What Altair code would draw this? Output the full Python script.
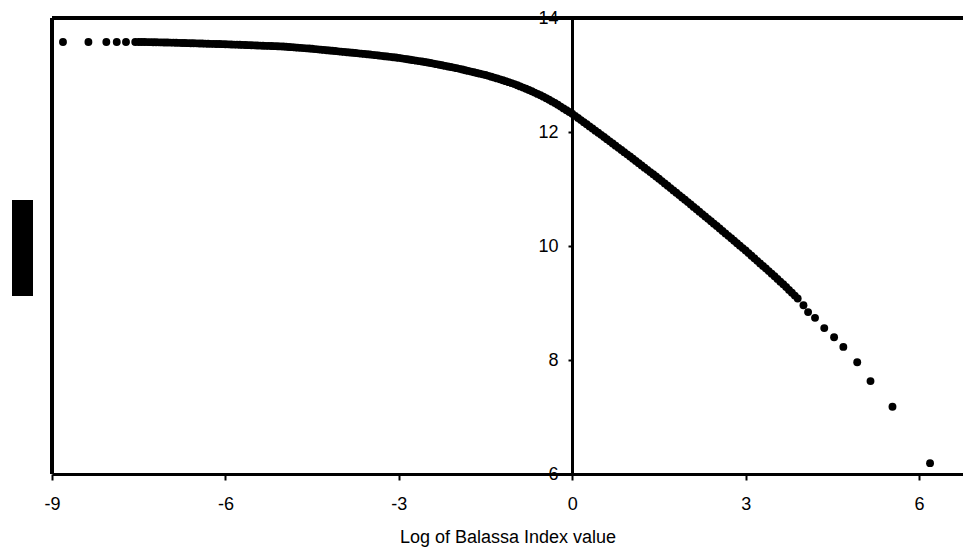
import altair as alt
import pandas as pd

# isolated points at the far left (log Balassa index, log value)
left_x = [-8.81, -8.37, -8.06, -7.88, -7.72, -7.56]
left_y = [13.58, 13.58, 13.58, 13.58, 13.58, 13.58]

# dense part of the curve
dense_x = [-7.5, -7.4, -7.3, -7.2, -7.1, -7.0, -6.9, -6.8, -6.7, -6.6, -6.5,
           -6.4, -6.3, -6.2, -6.1, -6.0, -5.9, -5.8, -5.7, -5.6, -5.5,
           -5.4, -5.3, -5.2, -5.1, -5.0, -4.9, -4.8, -4.7, -4.6, -4.5,
           -4.4, -4.3, -4.2, -4.1, -4.0, -3.9, -3.8, -3.7, -3.6, -3.5,
           -3.4, -3.3, -3.2, -3.1, -3.0, -2.9, -2.8, -2.7, -2.6, -2.5,
           -2.4, -2.3, -2.2, -2.1, -2.0, -1.9, -1.8, -1.7, -1.6, -1.5,
           -1.4, -1.3, -1.2, -1.1, -1.0, -0.9, -0.8, -0.7, -0.6, -0.5,
           -0.4, -0.3, -0.2, -0.1, 0.0, 0.1, 0.2, 0.3, 0.4, 0.5,
           0.6, 0.7, 0.8, 0.9, 1.0, 1.1, 1.2, 1.3, 1.4, 1.5,
           1.6, 1.7, 1.8, 1.9, 2.0, 2.1, 2.2, 2.3, 2.4, 2.5,
           2.6, 2.7, 2.8, 2.9, 3.0, 3.1, 3.2, 3.3, 3.4, 3.5,
           3.6, 3.7, 3.8, 3.9]
dense_y = [13.580, 13.578, 13.576, 13.574, 13.572, 13.570, 13.567, 13.564, 13.561, 13.558, 13.555,
           13.552, 13.549, 13.546, 13.543, 13.540, 13.536, 13.532, 13.528, 13.524, 13.520,
           13.516, 13.512, 13.508, 13.504, 13.500, 13.492, 13.484, 13.476, 13.468, 13.460,
           13.450, 13.440, 13.430, 13.420, 13.410, 13.400, 13.390, 13.380, 13.370, 13.360,
           13.348, 13.336, 13.324, 13.312, 13.300, 13.284, 13.268, 13.252, 13.236, 13.220,
           13.200, 13.180, 13.160, 13.140, 13.120, 13.096, 13.072, 13.048, 13.024, 13.000,
           12.970, 12.940, 12.908, 12.875, 12.840, 12.800, 12.758, 12.714, 12.668, 12.620,
           12.566, 12.508, 12.446, 12.382, 12.320, 12.246, 12.172, 12.098, 12.024, 11.950,
           11.874, 11.798, 11.722, 11.646, 11.570, 11.492, 11.414, 11.336, 11.258, 11.180,
           11.098, 11.016, 10.934, 10.852, 10.770, 10.686, 10.602, 10.518, 10.434, 10.350,
           10.264, 10.178, 10.092, 10.006, 9.920, 9.830, 9.740, 9.650, 9.560, 9.470,
           9.375, 9.280, 9.180, 9.080]

# further points of the dense part, between the ones above
mid_x = [-7.45, -7.35, -7.25, -7.15, -7.05, -6.95, -6.85, -6.75, -6.65, -6.55,
         -6.45, -6.35, -6.25, -6.15, -6.05, -5.95, -5.85, -5.75, -5.65, -5.55,
         -5.45, -5.35, -5.25, -5.15, -5.05, -4.95, -4.85, -4.75, -4.65, -4.55,
         -4.45, -4.35, -4.25, -4.15, -4.05, -3.95, -3.85, -3.75, -3.65, -3.55,
         -3.45, -3.35, -3.25, -3.15, -3.05, -2.95, -2.85, -2.75, -2.65, -2.55,
         -2.45, -2.35, -2.25, -2.15, -2.05, -1.95, -1.85, -1.75, -1.65, -1.55,
         -1.45, -1.35, -1.25, -1.15, -1.05, -0.95, -0.85, -0.75, -0.65, -0.55,
         -0.45, -0.35, -0.25, -0.15, -0.05, 0.05, 0.15, 0.25, 0.35, 0.45,
         0.55, 0.65, 0.75, 0.85, 0.95, 1.05, 1.15, 1.25, 1.35, 1.45,
         1.55, 1.65, 1.75, 1.85, 1.95, 2.05, 2.15, 2.25, 2.35, 2.45,
         2.55, 2.65, 2.75, 2.85, 2.95, 3.05, 3.15, 3.25, 3.35, 3.45,
         3.55, 3.65, 3.75, 3.85]
mid_y = [13.579, 13.577, 13.575, 13.573, 13.571, 13.568, 13.565, 13.562, 13.559, 13.556,
         13.553, 13.550, 13.547, 13.544, 13.541, 13.538, 13.534, 13.530, 13.526, 13.522,
         13.518, 13.514, 13.510, 13.506, 13.502, 13.496, 13.488, 13.480, 13.472, 13.464,
         13.455, 13.445, 13.435, 13.425, 13.415, 13.405, 13.395, 13.385, 13.375, 13.365,
         13.354, 13.342, 13.330, 13.318, 13.306, 13.292, 13.276, 13.260, 13.244, 13.228,
         13.210, 13.190, 13.170, 13.150, 13.130, 13.108, 13.084, 13.060, 13.036, 13.012,
         12.985, 12.955, 12.924, 12.892, 12.858, 12.820, 12.779, 12.736, 12.691, 12.644,
         12.593, 12.537, 12.477, 12.414, 12.351, 12.283, 12.209, 12.135, 12.061, 11.987,
         11.912, 11.836, 11.760, 11.684, 11.608, 11.531, 11.453, 11.375, 11.297, 11.219,
         11.139, 11.057, 10.975, 10.893, 10.811, 10.728, 10.644, 10.560, 10.476, 10.392,
         10.307, 10.221, 10.135, 10.049, 9.963, 9.875, 9.785, 9.695, 9.605, 9.515,
         9.423, 9.328, 9.230, 9.130]

# sparse tail on the right
tail_x = [4.00, 4.08, 4.20, 4.36, 4.53, 4.69, 4.93, 5.16, 5.54, 6.19]
tail_y = [8.96, 8.84, 8.74, 8.56, 8.40, 8.23, 7.96, 7.63, 7.18, 6.19]

x_ticks = [-9, -6, -3, 0, 3, 6]
y_ticks = [6, 8, 10, 12, 14]
x_title = "Log of Balassa Index value"

X_MIN, X_MAX = -9, 6.76
Y_MIN, Y_MAX = 6, 14
W, H = 911, 456
FONT = "Liberation Sans"

df = pd.DataFrame({
    "x": left_x + dense_x + mid_x + tail_x,
    "y": left_y + dense_y + mid_y + tail_y,
})

xscale = alt.Scale(domain=[X_MIN, X_MAX], nice=False, zero=False)
yscale = alt.Scale(domain=[Y_MIN, Y_MAX], nice=False, zero=False)

y_offset = -round((0 - X_MIN) / (X_MAX - X_MIN) * W)

points = alt.Chart(df).mark_circle(size=62, color="black", opacity=1).encode(
    x=alt.X("x:Q", scale=xscale,
            axis=alt.Axis(values=x_ticks, grid=False, domainWidth=3, domainColor="black",
                          tickColor="black", tickWidth=2, tickSize=6, labelFlush=False,
                          labelExpr="'' + datum.value",
                          labelFontSize=18, labelColor="black", labelPadding=15, labelFont=FONT,
                          title=x_title, titleFont=FONT, titleFontSize=18,
                          titleFontWeight="normal", titleColor="black", titlePadding=15)),
    y=alt.Y("y:Q", scale=yscale,
            axis=alt.Axis(values=y_ticks, grid=False, offset=y_offset, domainWidth=3,
                          domainColor="black", tickColor="black", tickWidth=2, tickSize=4,
                          labelExpr="'' + datum.value",
                          labelFontSize=18, labelColor="black", labelPadding=10,
                          labelFont=FONT, title=None)),
)

left_line = alt.Chart(df).mark_rule(color="black", strokeWidth=3).encode(
    x=alt.datum(X_MIN), y=alt.datum(Y_MIN), y2=alt.datum(Y_MAX)
)
top_line = alt.Chart(df).mark_rule(color="black", strokeWidth=3).encode(
    y=alt.datum(Y_MAX), x=alt.datum(X_MIN), x2=alt.datum(X_MAX)
)
box = alt.Chart(df).mark_rect(color="black").encode(
    x=alt.value(-40), x2=alt.value(-19), y=alt.value(182), y2=alt.value(278)
)

chart = alt.layer(left_line, top_line, box, points).properties(
    width=W, height=H,
    autosize=alt.AutoSizeParams(type="none"),
    padding={"left": 44, "top": 10, "right": 0, "bottom": 80},
).configure_view(stroke=None)

chart.save("out.html", embed_options={"renderer": "svg", "actions": False})
